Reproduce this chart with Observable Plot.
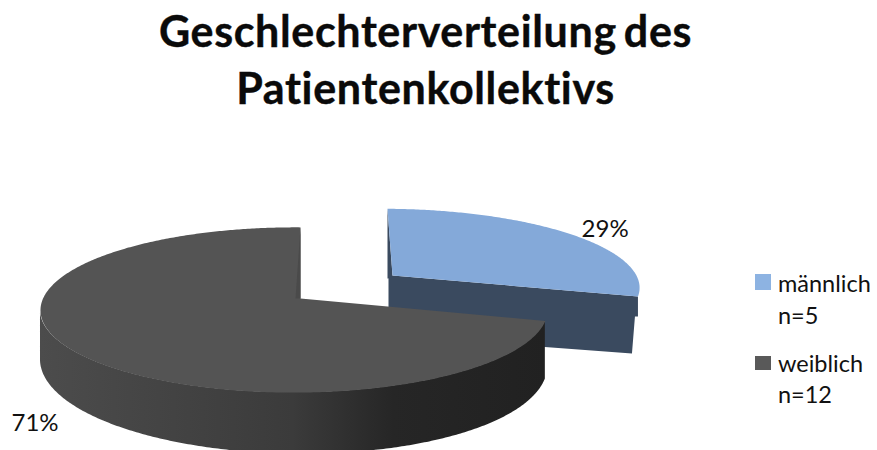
<!DOCTYPE html>
<html lang="de">
<head>
<meta charset="utf-8">
<script src="https://cdn.jsdelivr.net/npm/d3@7"></script>
<script src="https://cdn.jsdelivr.net/npm/@observablehq/plot@0.6"></script>
<style>
  html, body { margin: 0; padding: 0; background: #fff; width: 877px; height: 450px; overflow: hidden; }
  body { position: relative; font-family: Lato, "Open Sans", sans-serif; color: #111; }
  #title { position: absolute; left: 0; top: 0; width: 851px; text-align: center; font-weight: 700; font-size: 43px; line-height: 57px; padding-top: 2px; letter-spacing: 0.65px; word-spacing: -4px; color: #0a0a0a; -webkit-text-stroke: 0.4px #0a0a0a; }
  #chart { position: absolute; left: 0; top: 130px; }
  #chart svg { display: block; }
  .lg { position: absolute; font-size: 23.5px; line-height: 26px; white-space: nowrap; }
  .sw { position: absolute; width: 16px; }
</style>
</head>
<body>
<div id="title">Geschlechterverteilung des<br>Patientenkollektivs</div>
<div id="chart"></div>
<script>
// Data
const categories = ["männlich", "weiblich"];
const counts = [5, 12];
const nLabels = ["n=5", "n=12"];

// Colours
const topColors = ["#84A9D9", "#545454"];
const sideColors = ["#3A4A5F", "url(#darkSide)"];
const legendColors = ["#8DB3E2", "#595959"];

// Projection settings of the tilted, exploded pie (page pixels)
const pers = {p: 0.139, q: 0.025};
const apex = [{x: 392, y: 275}, {x: 300, y: 298}];
const radii = [{a: 250, b: 76, c: -5.7}, {a: 251, b: 81, c: 0}];
const thick = {t0: 51.7, t1: 3.74, t2: 9.9};
const labelOffset = [{dx: 35, dy: -5}, {dx: -42, dy: 70}];

const total = d3.sum(counts);
const arcs = d3.pie().sort(null)(counts);

function rim(i, th) {
  const s = Math.sin(th), t = Math.cos(th), D = 1 + pers.p * t + pers.q * s;
  const r = radii[i], o = apex[i];
  return {
    x: o.x + (r.a * s + r.c * t) / D,
    y: o.y - (r.b * t) / D,
    h: thick.t0 + thick.t1 * s - thick.t2 * t
  };
}
function sweep(i, from, to) {
  const n = Math.ceil(Math.abs(to - from) / 0.01);
  return d3.range(n + 1).map(k => rim(i, from + (to - from) * k / n));
}
const topFace = i => [apex[i], ...sweep(i, arcs[i].startAngle, arcs[i].endAngle), apex[i]];

// Male slice: visible faces
const m0 = rim(0, arcs[0].startAngle), m1 = rim(0, arcs[0].endAngle);
const mBottom = 57;
const maleFront = [
  apex[0], m1,
  {x: m1.x, y: m1.y + 20}, {x: m1.x - 3, y: m1.y + 20}, {x: m1.x - 6, y: m1.y + mBottom},
  {x: apex[0].x, y: apex[0].y + 60}, {x: apex[0].x - 4, y: apex[0].y + 60}, {x: apex[0].x - 4, y: apex[0].y}
];
const maleCut = [m0, apex[0], {x: apex[0].x - 4, y: apex[0].y + 3}, {x: m0.x, y: apex[0].y + 3}, m0];

// Female slice: outer wall from the cut edge to the left silhouette
const fAll = sweep(1, arcs[1].startAngle, arcs[1].endAngle);
const fLeft = d3.leastIndex(fAll, (a, b) => a.x - b.x);
const femaleWall = fAll.slice(0, fLeft + 1);
const fEnd = rim(1, arcs[1].endAngle);
const femaleCut = [fEnd, apex[1], {x: apex[1].x - 5, y: apex[1].y}, fEnd];

// Percentage labels placed from the mid angle of each slice
const labels = arcs.map((d, i) => {
  const m = rim(i, (d.startAngle + d.endAngle) / 2);
  return {x: m.x, y: m.y, dx: labelOffset[i].dx, dy: labelOffset[i].dy, text: Math.round(counts[i] / total * 100) + "%"};
});

const defs = () => {
  const g = d3.create("svg:defs");
  const lg = g.append("linearGradient").attr("id", "darkSide");
  [[0, "#4c4c4c"], [0.5, "#3b3b3b"], [0.7, "#262626"], [1, "#212121"]].forEach(([o, c]) =>
    lg.append("stop").attr("offset", o).attr("stop-color", c));
  return g.node();
};

const poly = (pts, fill) => Plot.line(pts, {x: "x", y: "y", fill, stroke: "none", curve: "linear"});

const chart = Plot.plot({
  width: 877,
  height: 320,
  margin: 0,
  x: {domain: [0, 877], range: [0, 877], axis: null},
  y: {domain: [130, 450], range: [0, 320], axis: null},
  style: {background: "transparent", overflow: "hidden"},
  marks: [
    defs,
    poly(maleFront, sideColors[0]),
    poly(maleCut, sideColors[0]),
    poly(topFace(0), topColors[0]),
    Plot.areaY(femaleWall, {x: "x", y1: "y", y2: d => d.y + d.h, fill: sideColors[1], curve: "linear"}),
    poly(topFace(1), topColors[1]),
    poly(femaleCut, "#4a4a4a"),
    ...labels.map(d => Plot.text([d], {
      x: "x", y: "y", text: "text", dx: d.dx, dy: d.dy,
      fontFamily: "Lato", fontSize: 24, fill: "#111", textAnchor: "middle"
    }))
  ]
});
document.getElementById("chart").append(chart);

// Legend (beside the plot)
const textTop = [[270, 302], [350, 381]], swatchTop = [274, 356], swatchH = [16, 14];
categories.forEach((c, i) => {
  const sw = document.createElement("div");
  sw.className = "sw";
  sw.style.cssText = `left:755px;top:${swatchTop[i]}px;height:${swatchH[i]}px;background:${legendColors[i]}`;
  document.body.append(sw);
  [c, nLabels[i]].forEach((txt, k) => {
    const el = document.createElement("div");
    el.className = "lg";
    el.style.cssText = `left:778px;top:${textTop[i][k]}px`;
    el.textContent = txt;
    document.body.append(el);
  });
});
</script>
</body>
</html>
